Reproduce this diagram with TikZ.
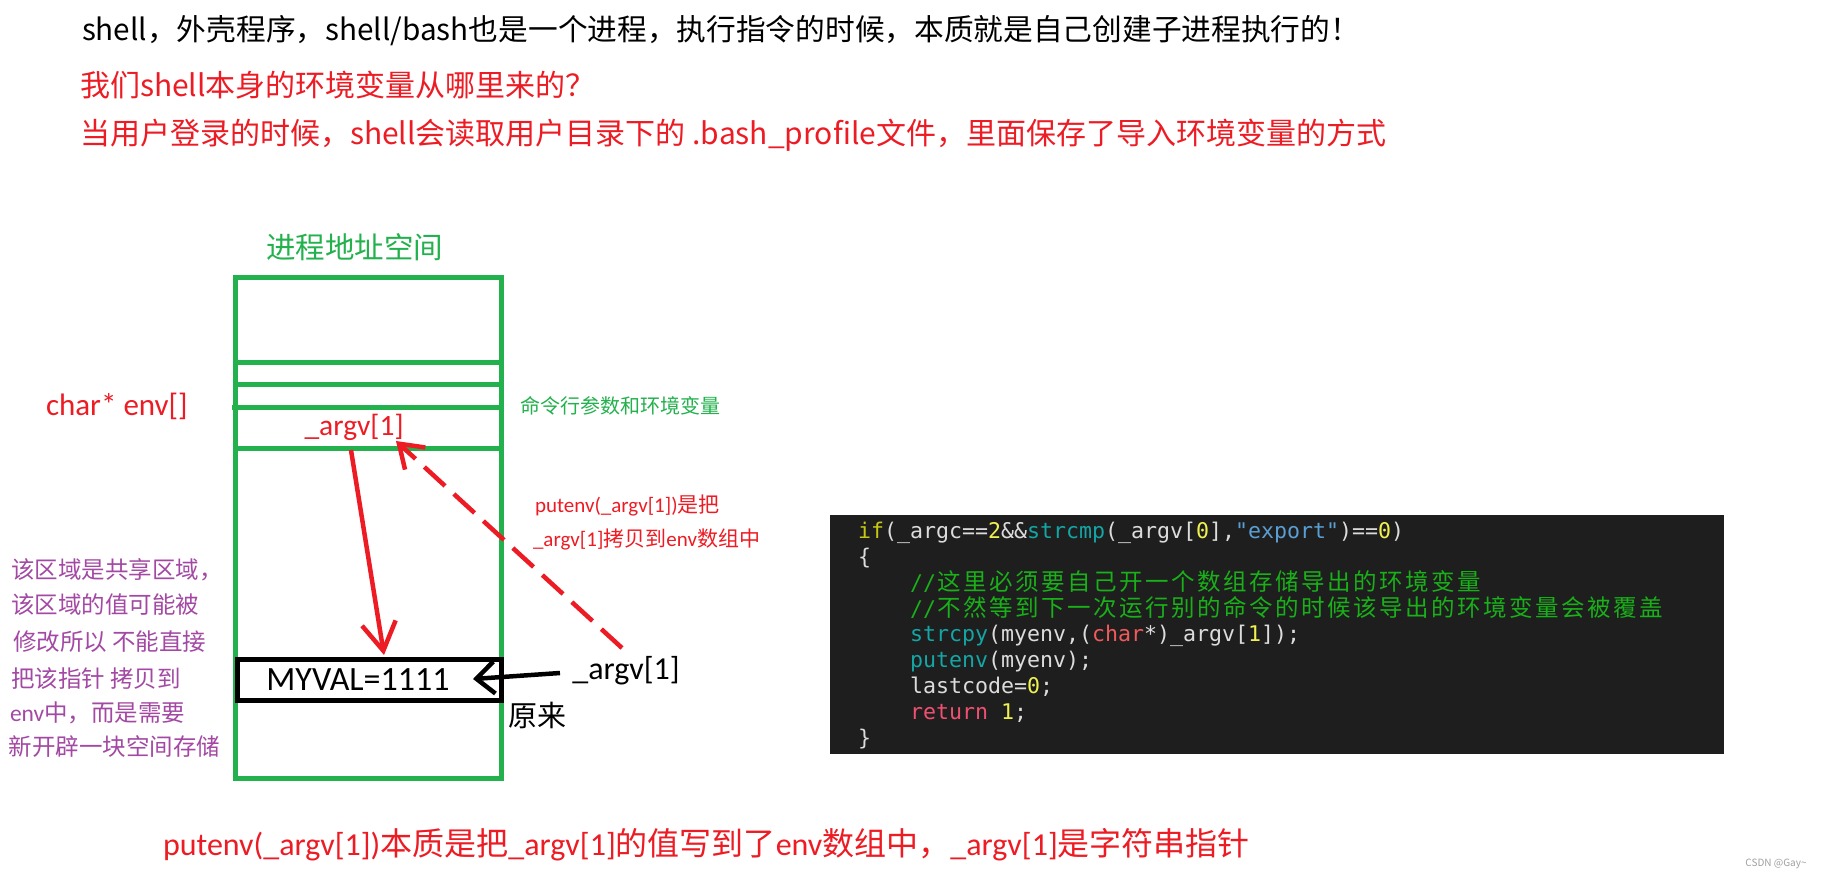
\documentclass[tikz,border=0pt]{standalone}
\usepackage{fontspec}
\setmainfont{Noto Sans CJK SC}
\newfontfamily\lat{Carlito}
\newfontfamily\cjk{Noto Sans CJK SC}
\newfontfamily\mono{DejaVu Sans Mono}
\usetikzlibrary{arrows.meta}
\definecolor{pred}{HTML}{ED1C24}
\definecolor{pgreen}{HTML}{22B14C}
\definecolor{ppurple}{HTML}{A349A4}
\definecolor{codebg}{HTML}{1E1E1E}
\definecolor{ctext}{HTML}{DCDCDC}
\definecolor{ckw}{HTML}{C8C814}
\definecolor{cnum}{HTML}{F0F050}
\definecolor{cfn}{HTML}{14A5A5}
\definecolor{cstr}{HTML}{5A9FD4}
\definecolor{ccom}{HTML}{19B019}
\definecolor{ctype}{HTML}{F05A5A}
\definecolor{cret}{HTML}{F05070}
\definecolor{wm}{HTML}{A0A0A0}
\newcommand\fs[1]{\fontsize{#1}{#1}\selectfont}
\def\cjloop#1{\ifx#1\relax\else\makebox[26pt]{#1}\expandafter\cjloop\fi}
\newcommand\cjcells[1]{{\cjk\fontsize{23.5}{26}\selectfont\cjloop#1\relax}}
\newcommand\cc[2]{\textcolor{#1}{#2}}
\tikzset{
  txt/.style={inner sep=0pt, outer sep=0pt},
  boxline/.style={draw=pgreen, line width=5pt},
  redarrow/.style={draw=pred, line width=4.5pt, -{Straight Barb[length=28pt,width=34pt,line width=4.5pt]}},
  reddash/.style={draw=pred, line width=4.5pt, dash pattern=on 28pt off 12pt, -{Straight Barb[length=22pt,width=30pt,line width=4.5pt]}},
  blackarrow/.style={draw=black, line width=4.5pt, -{Straight Barb[length=18pt,width=32pt,line width=4.5pt]}},
  code/.style={txt, anchor=base west, text=ctext, font=\mono\fontsize{21.6}{26}\selectfont},
}
\begin{document}
\begin{tikzpicture}[x=1pt,y=-1pt]
\useasboundingbox (0,0) rectangle (1830,878);
\fill[white] (0,0) rectangle (1830,878);

% top text
\node[txt,anchor=west] (l1) at (82,31) {\fs{29.7}shell，外壳程序，shell/bash也是一个进程，执行指令的时候，本质就是自己创建子进程执行的！};
\node[txt,anchor=west,text=pred] (l2) at (80,85) {\fs{30}我们shell本身的环境变量从哪里来的？};
\node[txt,anchor=west,text=pred] (l3) at (80,135) {\fs{30}当用户登录的时候，shell会读取用户目录下的 .bash\_profile文件，里面保存了导入环境变量的方式};

% address space
\node[txt,anchor=west,text=pgreen] (title) at (266,247) {\fs{29.5}进程地址空间};
\draw[boxline] (235,277) rectangle (501,778);
\draw[boxline] (235,362) -- (501,362);
\draw[boxline] (235,384) -- (501,384);
\draw[boxline] (232,407) -- (504,407);
\draw[boxline] (235,448) -- (501,448);

\node[txt,anchor=west,text=pred] (env) at (46,406) {\lat\fs{31}char* env[]};
\node[txt,anchor=west,text=pgreen] (cmd) at (520,406) {\fs{20}命令行参数和环境变量};
\node[txt,text=pred] (argvin) at (354,427) {\lat\fs{29.5}\_argv[1]};

% MYVAL box
\draw[draw=black, line width=5pt] (237,659) rectangle (501,700);
\node[txt,text=black] (myval) at (358,680) {\lat\fs{34}MYVAL=1111};

% labels right
\node[txt,anchor=west,text=pred] (put1) at (535,505) {\fs{21}{\lat putenv(\_argv[1])}是把};
\node[txt,anchor=west,text=pred] (put2) at (533,539) {\fs{21}{\lat \_argv[1]}拷贝到{\lat env}数组中};
\node[txt,text=black] (argvb) at (626,671) {\lat\fs{32}\_argv[1]};
\node[txt,text=black] (orig) at (537,715) {\fs{29}原来};

% arrows
\coordinate (rs) at (351,450);
\coordinate (re) at (384,655);
\draw[redarrow] (rs) -- (re);
\coordinate (ds) at (622,648);
\coordinate (de) at (396,441);
\draw[reddash] (ds) -- (de);
\coordinate (bs) at (560,673);
\coordinate (be) at (473,679);
\draw[blackarrow] (bs) -- (be);

% purple notes
\begin{scope}[every node/.style={txt,anchor=west,text=ppurple}]
\node (p1) at (11,570) {\fs{23.5}该区域是共享区域，};
\node (p2) at (11,605) {\fs{23.5}该区域的值可能被};
\node (p3) at (13,642) {\fs{23.5}修改所以 不能直接};
\node (p4) at (11,679) {\fs{23.5}把该指针 拷贝到};
\node (p5) at (10,713) {\fs{23.5}{\lat env}中，而是需要};
\node (p6) at (9,747) {\fs{23.5}新开辟一块空间存储};
\end{scope}

% bottom
\node[txt,anchor=west,text=pred] (bottom) at (163,845) {\fs{32}{\lat putenv(\_argv[1])}本质是把{\lat \_argv[1]}的值写到了{\lat env}数组中，{\lat \_argv[1]}是字符串指针};

% code block
\fill[codebg] (830,515) rectangle (1724,754);
\node[code] (c1) at (858,538.5) {\cc{ckw}{if}(\_argc==\cc{cnum}{2}\&\&\cc{cfn}{strcmp}(\_argv[\cc{cnum}{0}],\cc{cstr}{"export"})==\cc{cnum}{0})};
\node[code] (c2) at (858,564.4) {\{};
\node[code] (c3) at (910,590.2) {\cc{ccom}{//\cjcells{这里必须要自己开一个数组存储导出的环境变量}}};
\node[code] (c4) at (910,616.1) {\cc{ccom}{//\cjcells{不然等到下一次运行别的命令的时候该导出的环境变量会被覆盖}}};
\node[code] (c5) at (910,641.9) {\cc{cfn}{strcpy}(myenv,(\cc{ctype}{char}*)\_argv[\cc{cnum}{1}]);};
\node[code] (c6) at (910,667.8) {\cc{cfn}{putenv}(myenv);};
\node[code] (c7) at (910,693.6) {lastcode=\cc{cnum}{0};};
\node[code] (c8) at (910,719.5) {\cc{cret}{return} \cc{cnum}{1};};
\node[code] (c9) at (858,745.3) {\}};

% watermark
\node[txt,text=wm] (wmk) at (1776,864) {\fs{10}CSDN @Gay\textasciitilde};
\end{tikzpicture}
\end{document}
